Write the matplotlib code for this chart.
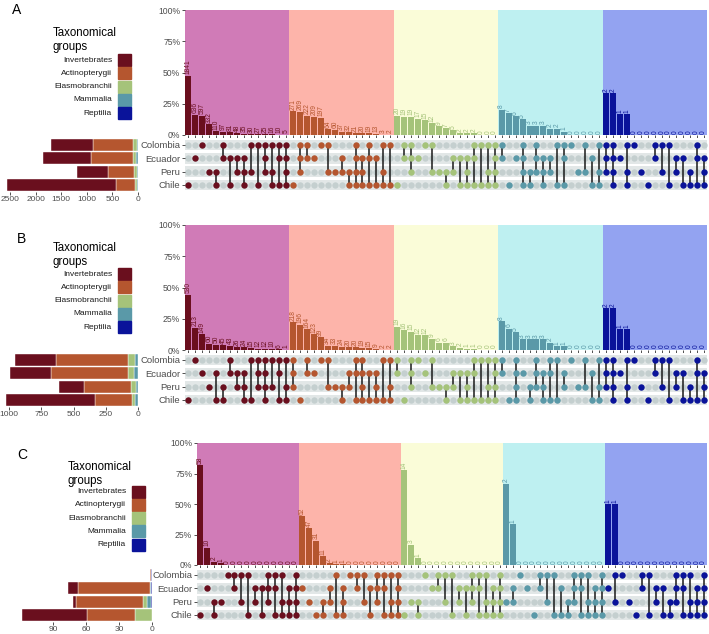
import matplotlib.pyplot as plt
from matplotlib.patches import Rectangle

plt.rcParams['font.family'] = ['Liberation Sans', 'DejaVu Sans']

W, H = 709, 634
ROW = 13.3  # pixel height of one matrix row

countries = ['Colombia', 'Ecuador', 'Peru', 'Chile']
# set codes: C = Colombia, E = Ecuador, P = Peru, H = Chile
code_row = {'C': 0, 'E': 1, 'P': 2, 'H': 3}

groups = ['Invertebrates', 'Actinopterygii', 'Elasmobranchii', 'Mammalia', 'Reptilia']
group_colors = ['#6A0F1E', '#B5562F', '#A5C37A', '#5A99A8', '#0A139A']
bg_colors = ['#D07BB7', '#FDB4AA', '#FAFCD8', '#BEF0F1', '#93A3F1']

# ---- panel A ----
a_inv_n = [1841, 636, 597, 332, 110, 97, 81, 48, 35, 30, 27, 25, 16, 10, 5]
a_inv_sets = ['H', 'E', 'C', 'P', 'PH', 'CE', 'EH', 'EP', 'EPH', 'CP', 'CH', 'CEP', 'CPH', 'CEH', 'CEPH']
a_act_n = [271, 269, 222, 209, 197, 64, 60, 37, 32, 21, 20, 19, 13, 3, 2]
a_act_sets = ['H', 'CEP', 'CE', 'E', 'C', 'CP', 'P', 'EP', 'PH', 'CEPH', 'EPH', 'CEH', 'EH', 'CPH', 'CH']
a_ela_n = [20, 19, 19, 17, 15, 12, 9, 7, 5, 2, 2, 2, 0, 0, 0]
a_ela_sets = ['H', 'CE', 'CEP', 'E', 'C', 'CP', 'P', 'PH', 'EP', 'EH', 'EPH', 'CEH', 'CH', 'CPH', 'CEPH']
a_mam_n = [8, 7, 6, 5, 3, 3, 3, 2, 2, 1, 0, 0, 0, 0, 0]
a_mam_sets = ['CE', 'H', 'E', 'CEPH', 'PH', 'CEP', 'EPH', 'EP', 'CH', 'CEH', 'C', 'P', 'CP', 'EH', 'CPH']
a_rep_n = [2, 2, 1, 1, 0, 0, 0, 0, 0, 0, 0, 0, 0, 0, 0]
a_rep_sets = ['CEP', 'CEPH', 'E', 'CPH', 'C', 'P', 'H', 'CE', 'CP', 'CH', 'EP', 'EH', 'PH', 'CEH', 'EPH']

# ---- panel B ----
b_inv_n = [530, 213, 149, 60, 50, 45, 43, 26, 24, 15, 12, 12, 10, 6, 1]
b_inv_sets = ['H', 'C', 'E', 'P', 'EH', 'PH', 'CE', 'EP', 'EPH', 'CH', 'CEP', 'CEPH', 'CP', 'CEH', 'CPH']
b_act_n = [218, 196, 164, 123, 99, 34, 33, 24, 20, 20, 19, 15, 9, 2, 2]
b_act_sets = ['CEP', 'H', 'CE', 'E', 'C', 'CP', 'P', 'PH', 'EP', 'CEH', 'CEPH', 'EH', 'EPH', 'CH', 'CPH']
b_ela_n = [19, 16, 15, 12, 12, 9, 6, 6, 3, 2, 1, 1, 0, 0, 0]
b_ela_sets = ['CE', 'H', 'CEP', 'C', 'E', 'CP', 'P', 'PH', 'EP', 'EH', 'EPH', 'CEH', 'CH', 'CPH', 'CEPH']
b_mam_n = [8, 6, 5, 3, 3, 3, 3, 2, 1, 1, 0, 0, 0, 0, 0]
b_mam_sets = ['CE', 'H', 'CEPH', 'E', 'PH', 'CEP', 'EPH', 'CEH', 'CH', 'EP', 'C', 'P', 'CP', 'EH', 'CPH']
b_rep_n = [2, 2, 1, 1, 0, 0, 0, 0, 0, 0, 0, 0, 0, 0, 0]
b_rep_sets = ['CEP', 'CEPH', 'E', 'CPH', 'C', 'P', 'H', 'CE', 'CP', 'CH', 'EP', 'EH', 'PH', 'CEH', 'EPH']

# ---- panel C ----
c_inv_n = [58, 10, 2, 1, 0, 0, 0, 0, 0, 0, 0, 0, 0, 0, 0]
c_inv_sets = ['H', 'E', 'PH', 'P', 'C', 'CE', 'CP', 'CH', 'EP', 'EH', 'CEP', 'CEH', 'CPH', 'EPH', 'CEPH']
c_act_n = [62, 47, 31, 11, 2, 1, 1, 0, 0, 0, 0, 0, 0, 0, 0]
c_act_sets = ['E', 'P', 'H', 'PH', 'EP', 'CH', 'EPH', 'C', 'CE', 'CP', 'EH', 'CEP', 'CEH', 'CPH', 'CEPH']
c_ela_n = [14, 3, 1, 0, 0, 0, 0, 0, 0, 0, 0, 0, 0, 0, 0]
c_ela_sets = ['H', 'P', 'PH', 'C', 'E', 'CE', 'CP', 'CH', 'EP', 'EH', 'CEP', 'CEH', 'CPH', 'EPH', 'CEPH']
c_mam_n = [2, 1, 0, 0, 0, 0, 0, 0, 0, 0, 0, 0, 0, 0, 0]
c_mam_sets = ['P', 'EP', 'C', 'E', 'H', 'CE', 'CP', 'CH', 'EH', 'PH', 'CEP', 'CEH', 'CPH', 'EPH', 'CEPH']
c_rep_n = [1, 1, 0, 0, 0, 0, 0, 0, 0, 0, 0, 0, 0, 0, 0]
c_rep_sets = ['E', 'CP', 'C', 'P', 'H', 'CE', 'CH', 'EP', 'EH', 'PH', 'CEP', 'CEH', 'CPH', 'EPH', 'CEPH']

left_ticks_a = [2500, 2000, 1500, 1000, 500, 0]
left_ticks_b = [1000, 750, 500, 250, 0]
left_ticks_c = [90, 60, 30, 0]
pct_ticks = [0, 0.25, 0.5, 0.75, 1.0]
pct_labels = ['0%', '25%', '50%', '75%', '100%']

fig = plt.figure(figsize=(W / 100, H / 100), dpi=100)


def px(x0, y0, x1, y1):
    # pixel box (top-left origin) -> figure fraction rect
    return [x0 / W, 1 - y1 / H, (x1 - x0) / W, (y1 - y0) / H]


def draw_panel(letter, counts, sets, g):
    ncol = sum(len(c) for c in counts)
    txt = '#4D4D4D'

    # intersection bars (share of each group)
    ax = fig.add_axes(px(g['x0'], g['bar_top'], g['x1'], g['bar_bot']))
    ax.set_xlim(-0.5, ncol - 0.5)
    ax.set_ylim(0, 1)
    col = 0
    for gi, (cn, cs) in enumerate(zip(counts, sets)):
        xs = list(range(col, col + len(cn)))
        ax.axvspan(col - 0.5, col + len(cn) - 0.5, color=bg_colors[gi], lw=0, zorder=0)
        total = sum(cn)
        pct = [v / total for v in cn]
        ax.bar(xs, pct, width=0.86, color=group_colors[gi], zorder=2)
        for x, p, v in zip(xs, pct, cn):
            ax.text(x, p + 0.012, str(v), rotation=90, ha='center', va='bottom',
                    fontsize=4.8, color=group_colors[gi], zorder=3)
        col += len(cn)
    ax.set_yticks(pct_ticks)
    ax.set_yticklabels(pct_labels, fontsize=6.2, color=txt)
    ax.set_xticks(range(ncol))
    ax.set_xticklabels([])
    ax.tick_params(length=2, width=0.6, color='#333333', pad=1.5)
    for s in ax.spines.values():
        s.set_visible(False)

    # membership matrix
    mat_bot = g['mat_top'] + 4 * ROW
    mx = fig.add_axes(px(g['x0'], g['mat_top'], g['x1'], mat_bot))
    mx.set_xlim(-0.5, ncol - 0.5)
    mx.set_ylim(3.5, -0.5)
    for r in range(4):
        mx.axhspan(r - 0.4, r + 0.4, color='#E2E7E7', lw=0, zorder=0)
    mx.scatter([i for i in range(ncol) for r in range(4)],
               [r for i in range(ncol) for r in range(4)],
               s=21, color='#C4CFCF', lw=0, zorder=1)
    col = 0
    for gi, cs in enumerate(sets):
        for j, s in enumerate(cs):
            rows = [code_row[c] for c in s]
            x = col + j
            if len(rows) > 1:
                mx.plot([x, x], [min(rows), max(rows)], color='#1A1A1A', lw=1.1, zorder=2)
            mx.scatter([x] * len(rows), rows, s=21, color=group_colors[gi], lw=0, zorder=3)
        col += len(cs)
    mx.set_yticks(range(4))
    mx.set_yticklabels(countries, fontsize=6.8, color=txt)
    mx.set_xticks([])
    mx.tick_params(length=2, width=0.6, color='#333333', pad=1.5)
    for s in mx.spines.values():
        s.set_visible(False)

    # set sizes per country, stacked by group
    lx = fig.add_axes(px(g['lx0'], g['mat_top'], g['lx1'], mat_bot))
    left = [0, 0, 0, 0]
    for gi in reversed(range(len(groups))):
        tot = [sum(v for v, s in zip(counts[gi], sets[gi]) if code in s) for code in 'CEPH']
        lx.barh(range(4), tot, left=left, height=0.9, color=group_colors[gi],
                edgecolor='white', lw=0.3)
        left = [a + b for a, b in zip(left, tot)]
    lx.set_xlim(g['lmax'], 0)
    lx.set_ylim(3.5, -0.5)
    lx.set_yticks([])
    lx.set_xticks(g['lticks'])
    lx.set_xticklabels([str(t) for t in g['lticks']], fontsize=6.0, color=txt)
    lx.tick_params(length=2, width=0.6, color='#333333', pad=1.5)
    for s in lx.spines.values():
        s.set_visible(False)

    # panel letter and legend
    fig.text(g['letter'][0] / W, 1 - g['letter'][1] / H, letter, fontsize=10, va='top', ha='left')
    fig.text(g['leg_x'] / W, 1 - g['leg_y'] / H, 'Taxonomical\ngroups', fontsize=8.3,
             va='top', ha='left', linespacing=1.2)
    for gi, name in enumerate(groups):
        yc = g['sw_y'] + gi * ROW
        fig.add_artist(Rectangle((g['sw_x'] / W, 1 - (yc + 6) / H), 13 / W, 12 / H,
                                 transform=fig.transFigure, color=group_colors[gi]))
        fig.text((g['sw_x'] - 6) / W, 1 - yc / H, name, fontsize=6, ha='right', va='center',
                 color='#1A1A1A')


geo_a = dict(x0=185, x1=707, bar_top=10, bar_bot=135, mat_top=138.3,
             lx0=5, lx1=138, lmax=2598, lticks=left_ticks_a,
             letter=(12, 3), leg_x=53, leg_y=27, sw_x=118, sw_y=60)
geo_b = dict(x0=185, x1=707, bar_top=225, bar_bot=350, mat_top=353.3,
             lx0=5, lx1=138.3, lmax=1030, lticks=left_ticks_b,
             letter=(17, 232), leg_x=53, leg_y=242, sw_x=118, sw_y=274)
geo_c = dict(x0=197, x1=707, bar_top=443, bar_bot=565, mat_top=568.3,
             lx0=20, lx1=151.7, lmax=120.5, lticks=left_ticks_c,
             letter=(17, 448), leg_x=68, leg_y=461, sw_x=132, sw_y=491.5)

draw_panel('A',
           [a_inv_n, a_act_n, a_ela_n, a_mam_n, a_rep_n],
           [a_inv_sets, a_act_sets, a_ela_sets, a_mam_sets, a_rep_sets], geo_a)
draw_panel('B',
           [b_inv_n, b_act_n, b_ela_n, b_mam_n, b_rep_n],
           [b_inv_sets, b_act_sets, b_ela_sets, b_mam_sets, b_rep_sets], geo_b)
draw_panel('C',
           [c_inv_n, c_act_n, c_ela_n, c_mam_n, c_rep_n],
           [c_inv_sets, c_act_sets, c_ela_sets, c_mam_sets, c_rep_sets], geo_c)

fig.savefig('out.png', dpi=100)
